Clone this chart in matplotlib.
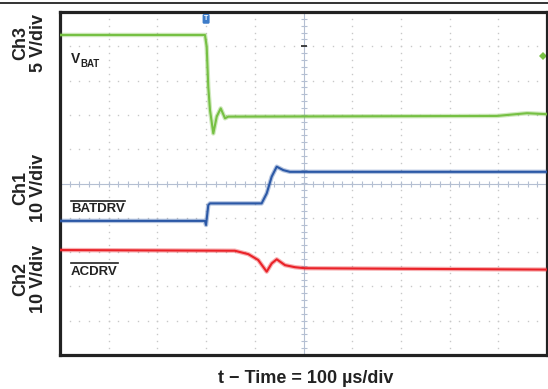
import matplotlib
matplotlib.use("Agg")
import matplotlib.pyplot as plt
from matplotlib.lines import Line2D
import numpy as np

plt.rcParams["font.family"] = ["Liberation Sans", "DejaVu Sans"]

# scope settings: 100 us/div, 10 x 10 divisions
t_div = 100
n_xdiv = 10
n_ydiv = 10

# traces (time in us, level in divisions from centre)
vbat_t = [0, 297.7, 301.2, 304.5, 308, 314.8, 321.8, 330, 338.8, 345.6, 897, 959, 1000]
vbat_v = [4.33, 4.33, 3.99, 2.81, 2.14, 1.46, 1.95, 2.19, 1.90, 1.95, 1.97, 2.05, 2.02]

batdrv_t = [0, 297.7, 299.8, 304.5, 308, 414, 424.4, 434.7, 445, 458.5, 472, 1000]
batdrv_v = [-1.09, -1.09, -1.21, -0.63, -0.58, -0.58, -0.29, 0.20, 0.49, 0.39, 0.34, 0.34]

acdrv_t = [0, 359, 386.7, 407, 424.4, 434.7, 445, 462, 482.5, 503, 1000]
acdrv_v = [-1.94, -1.96, -2.06, -2.23, -2.57, -2.33, -2.21, -2.38, -2.44, -2.47, -2.51]

green = "#76c043"
blue = "#2b58a6"
red = "#ea2228"

W, H = 548, 389


def px(x, y):
    # pixel position -> figure fraction
    return x / W, 1 - y / H


fig = plt.figure(figsize=(W / 100, H / 100), dpi=100)
ax = fig.add_axes([60 / W, (H - 355) / H, 487 / W, 343 / H])

xmax = t_div * n_xdiv
ymax = n_ydiv / 2
ax.set_xlim(0, xmax)
ax.set_ylim(-ymax, ymax)
ax.set_xticks([])
ax.set_yticks([])
for s in ax.spines.values():
    s.set_linewidth(2.3)
    s.set_color("#222222")

# dotted graticule
xminor = np.arange(0, xmax + 1, t_div / 5)
yminor = np.arange(-ymax, ymax + 0.01, 0.2)
dot = "#c8c8c8"
for k in range(1, n_xdiv):
    if k == n_xdiv // 2:
        continue
    ax.plot(np.full(len(yminor), k * t_div), yminor, ls="none", marker="s",
            ms=1.0, mew=0, color=dot, zorder=1)
for k in range(-int(ymax) + 1, int(ymax)):
    if k == 0:
        continue
    ax.plot(xminor, np.full(len(xminor), k), ls="none", marker="s",
            ms=1.0, mew=0, color=dot, zorder=1)

# centre axes with minor ticks
cl = "#b4bfd2"
ax.axvline(xmax / 2, color=cl, lw=0.8, zorder=1)
ax.axhline(0, color=cl, lw=0.8, zorder=1)
ax.plot(np.full(len(yminor), xmax / 2), yminor, ls="none", marker="_",
        ms=4, mew=0.8, color=cl, zorder=1)
ax.plot(xminor, np.zeros(len(xminor)), ls="none", marker="|",
        ms=4, mew=0.8, color=cl, zorder=1)

# traces
for tt, vv, c in [(vbat_t, vbat_v, green), (batdrv_t, batdrv_v, blue),
                  (acdrv_t, acdrv_v, red)]:
    ax.plot(tt, vv, color=c, lw=3.2, alpha=0.35, solid_joinstyle="round", zorder=3)
    ax.plot(tt, vv, color=c, lw=1.5, solid_joinstyle="round", zorder=4)

# scope markers
ax.text(300, 4.8, "T", color="white", fontsize=5, fontweight="bold",
        ha="center", va="center", zorder=6,
        bbox=dict(boxstyle="round,pad=0.2", fc="#3d7cc9", ec="none"))
ax.plot([xmax / 2], [4.01], marker="_", ms=5, mew=1.3, color="#333333", zorder=5)
ax.plot([xmax - 8], [3.72], marker="D", ms=4.5, mew=0, color=green, zorder=2)

# channel labels
for y, s in [(43, "Ch3\n5 V/div"), (188, "Ch1\n10 V/div"), (279, "Ch2\n10 V/div")]:
    fig.text(*px(30, y), s, rotation=90, ha="center", va="center",
             multialignment="center", fontsize=13, fontweight="bold",
             linespacing=1.05, color="#222222")

# trace names
fig.text(*px(71, 63.3), "V", fontsize=10, fontweight="bold", color="#222222",
         va="baseline")
fig.text(*px(80, 66.7), "BAT", fontsize=7, fontweight="bold", color="#222222",
         va="baseline")
fig.text(*px(71, 212.3), "BATDRV", fontsize=9.5, fontweight="bold",
         color="#222222", va="baseline")
fig.text(*px(71, 275), "ACDRV", fontsize=9.5, fontweight="bold",
         color="#222222", va="baseline")
for x0, x1, y in [(71, 125, 200.7), (71, 118, 263.3)]:
    fig.add_artist(Line2D([x0 / W, x1 / W], [1 - y / H, 1 - y / H],
                          color="#222222", lw=1.2))

# top rule and time base
fig.add_artist(Line2D([0, 1], [1 - 3.3 / H, 1 - 3.3 / H], color="#111111", lw=1.2))
fig.text(*px(305.5, 383.3), "t \u2212 Time = 100 \u00b5s/div", ha="center",
         va="baseline", fontsize=13, fontweight="bold", color="#222222")

fig.savefig("out.png", dpi=100)
